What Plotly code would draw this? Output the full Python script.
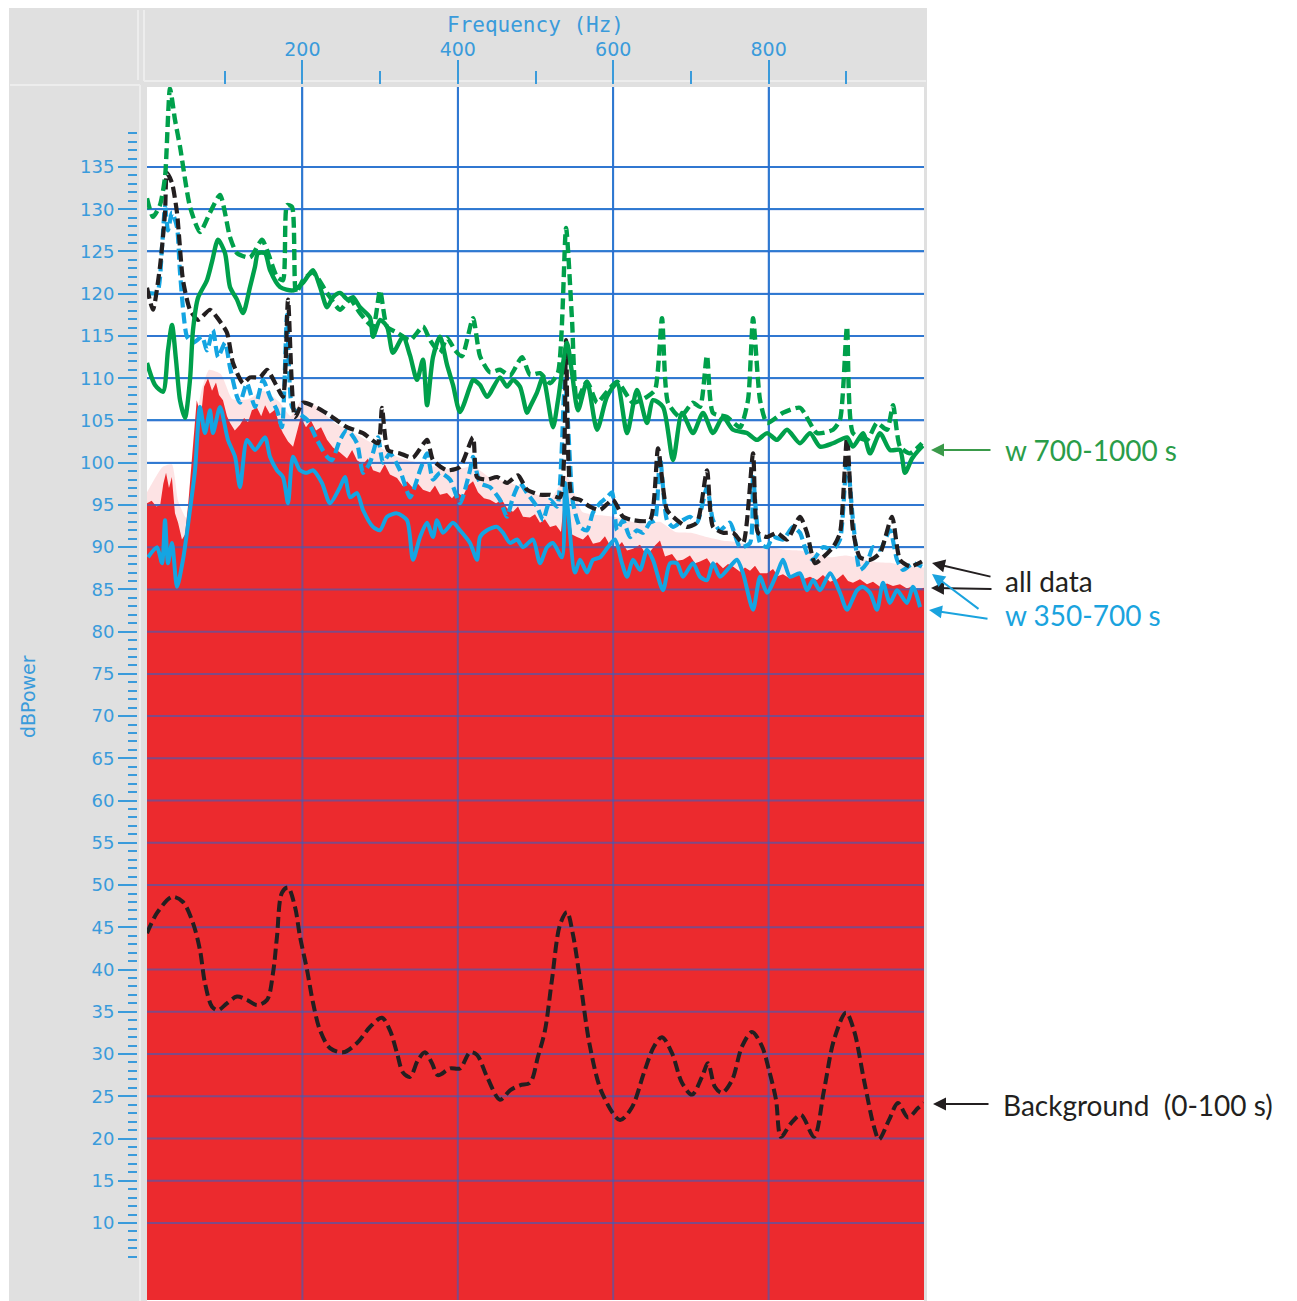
import plotly.graph_objects as go

W, H = 1297, 1301
def px(x):
    return x / W
def py(y):
    return 1 - y / H

# ---------------- data (Hz, dBPower) ----------------
gd_f = [0, 7.7, 16.7, 23.2, 29.6, 36, 42.5, 55.3, 68.2, 81.1, 94, 106.8, 115.8, 132.6, 148, 154.4, 167.3, 175, 180.2, 186.6,
        191.8, 200.8, 213.6, 231.7, 248.4, 261.3, 274.1, 290.9, 299.9, 308.9, 321.8, 338.5, 355.2, 364.3, 377.1, 386.1, 396.4,
        405.4, 419.6, 428.6, 441.4, 454.3, 467.2, 482.6, 492.9, 505.8, 518.7, 529, 539.3, 547, 553.4, 566.3, 579.2, 592,
        604.9, 625.5, 643.5, 653.8, 662.8, 670.5, 686, 702.7, 711.7, 720.7, 728.4, 746.5, 763.2, 773.5, 780, 789, 798, 818.5,
        840.4, 862.3, 882.9, 891.9, 900.9, 908.6, 926.6, 939.5, 952.4, 960.1, 969.1, 982, 997.4]
gd_db = [131.3, 129.1, 130.5, 133.8, 144.3, 140.6, 137.4, 130.3, 127.3, 129.6, 131.7, 126.7, 124.8, 124.3, 126.4, 125.2, 122, 121.6, 130.5, 130.3,
         120.1, 121.6, 122.5, 120.1, 118.1, 119.3, 117.7, 116.1, 120.4, 116.1, 115.4, 114.5, 116.1, 114.5, 113, 114.8, 113.3,
         112.6, 117.1, 112.6, 110.7, 111, 110.3, 112.5, 110.4, 110.6, 109.4, 110.7, 127.8, 116.9, 107.4, 109.6, 107.1, 108.4,
         109.6, 107.1, 107.8, 108.6, 117.1, 107.1, 105.4, 107.1, 106.6, 112.7, 105.9, 105.4, 104.2, 107.4, 117.1, 107.4, 104.7, 105.9,
         106.5, 103.5, 103.9, 105.1, 116.1, 103.5, 102.7, 104.7, 103.9, 106.8, 101.9, 101.1, 102.3]

gs_f = [0, 10.3, 20.6, 27, 32.2, 37.3, 42.5, 48.9, 55.3, 59.2, 65.6, 77.2, 83.7, 91.4, 100.4, 106.8, 115.8, 123.6, 132.6, 139,
        142.9, 151.9, 158.3, 171.2, 187.9, 200.8, 213.6, 222.7, 231.7, 239.4, 248.4, 258.7, 265.1, 274.1, 287, 290.9, 299.9,
        308.9, 316.6, 329.5, 338.5, 347.5, 355.2, 360.4, 368.1, 377.1, 386.1, 393.8, 402.8, 415.7, 419.6, 428.6, 437.6, 454.3,
        463.3, 471, 480, 489.1, 492.9, 501.9, 509.7, 522.5, 529, 540.5, 547, 554.7, 566.3, 579.2, 592, 604.9, 617.8, 630.6,
        643.5, 651.2, 664.1, 677, 688.5, 702.7, 715.6, 728.4, 741.3, 754.2, 772.2, 785.1, 798, 810.8, 823.7, 840.4, 853.3,
        866.2, 882.9, 900.9, 908.6, 921.5, 930.5, 943.4, 956.2, 969.1, 975.5, 984.6, 992.3, 998.7]
gs_db = [111.8, 109.2, 108.4, 113.3, 116.3, 112.2, 107.4, 105.3, 109.8, 115.7, 119.5, 121.6, 123.8, 126.4, 124.8, 120.8, 119.3, 117.7, 120.8, 123.2,
         124.8, 124.8, 122.8, 120.8, 120.4, 121.3, 122.8, 120.8, 118.4, 119.6, 120.1, 119.3, 119.6, 118.4, 117.2, 114.9, 116.9,
         116.1, 113, 114.9, 112.7, 109.8, 112.2, 106.8, 112.5, 114.9, 111.6, 109.2, 106, 109, 109.8, 109.2, 107.8, 110.1,
         109, 109.8, 109, 105.9, 106.6, 108.3, 110.1, 104.2, 107.4, 114.2, 110.6, 106.2, 109.6, 103.9, 107.8, 109.4, 103.5, 108.6,
         104.7, 107.4, 106.6, 100.3, 105.9, 103.5, 105.9, 103.5, 105.4, 103.9, 103.5, 102.7, 103.5, 102.7, 103.9, 102.3, 103.5,
         101.9, 102.3, 103, 101.9, 103.5, 101.1, 103.5, 101.5, 101.5, 98.8, 100.5, 101.4, 102]

ad_f = [0, 7.7, 16.7, 23.2, 25.7, 32.2, 38.6, 46.3, 55.3, 65.6, 81.1, 90.1, 102.9, 110.7, 123.6, 132.6, 145.5, 154.4, 167.3, 175,
        181.5, 190.5, 200.8, 218.8, 235.5, 257.4, 278, 297.3, 302.4, 310.2, 325.6, 342.3, 360.4, 368.1, 386.1, 402.8, 419.6,
        424.7, 437.6, 450.5, 463.3, 477.5, 489.1, 505.8, 518.7, 531.5, 539.3, 547, 557.3, 570.1, 583, 599.7, 612.6, 625.5,
        647.4, 657.7, 669.2, 682.1, 695, 707.9, 720.7, 728.4, 741.3, 754.2, 767.1, 780, 786.4, 798, 810.8, 823.7, 840.4, 849.4,
        859.7, 870, 882.9, 891.9, 900.9, 908.6, 917.6, 930.5, 943.4, 958.8, 969.1, 982, 997.4]
ad_db = [120.7, 118.1, 123.2, 129.6, 134.3, 133.1, 129.6, 121.6, 118.1, 116.9, 118.1, 117.2, 115.4, 111.8, 109.4, 110.1, 110.1, 111, 109, 107.8,
         119.3, 105.4, 107.1, 106.5, 105.6, 104.2, 103.5, 102.3, 106.5, 101.5, 101.1, 100.6, 102.7, 100.3, 99.1, 99.5, 103,
         98.3, 98, 98.3, 97.6, 98.5, 96.8, 96.2, 96.2, 95.9, 114.5, 95.9, 95.6, 94.8, 94.4, 95.6, 93.6, 93.2,
         93.2, 101.7, 94.4, 93.2, 92.4, 92.9, 99.1, 92.4, 91.7, 91.7, 90.5, 101.1, 91.7, 91.2, 91.7, 90.9, 93.6, 91.7,
         88.1, 88.8, 90, 91.7, 103, 92, 88.8, 88.5, 89.3, 93.6, 88.5, 87.7, 88.3]

bd_f = [0, 12.9, 19.3, 23.2, 27, 32.2, 38.6, 42.5, 51.5, 59.2, 70.8, 77.2, 84.9, 91.4, 100.4, 106.8, 115.8, 119.7, 128.7, 139,
        149.3, 158.3, 167.3, 173.7, 180.2, 186.6, 194.3, 205.9, 218.8, 231.7, 238.1, 248.4, 257.4, 270.3, 278, 287, 297.3,
        303.7, 312.7, 325.6, 338.5, 351.4, 360.4, 368.1, 377.1, 390, 402.8, 415.7, 419.6, 428.6, 441.4, 454.3, 463.3, 471,
        480, 489.1, 501.9, 509.7, 518.7, 527.7, 538, 548.3, 557.3, 566.3, 574, 583, 592, 598.5, 604.9, 612.6, 621.6, 630.6,
        638.4, 647.4, 653.8, 660.2, 669.2, 677, 689.8, 698.8, 707.9, 720.7, 728.4, 737.5, 750.3, 763.2, 776.1, 780, 789, 798,
        805.7, 818.5, 831.4, 840.4, 849.4, 857.1, 870, 882.9, 891.9, 900.9, 908.6, 917.6, 926.6, 934.4, 943.4, 956.2, 965.3,
        973, 985.8, 997.4]
bd_db = [120.1, 120.1, 125.5, 130.3, 127.5, 129.6, 127.9, 122.5, 114.9, 114.2, 114.9, 113.3, 115.7, 112.5, 114.2, 111.3, 107.8, 107.1, 109.4, 106.6,
         109.8, 107.8, 106.2, 104.2, 117.5, 106.6, 105.9, 105.1, 102.7, 100.7, 100.3, 102.7, 103.9, 102.3, 98.8, 100, 103,
         100, 101.1, 99.1, 95.9, 99.1, 101.1, 98, 98.8, 98, 95.2, 99.1, 100.7, 97.6, 97.1, 95.6, 93.6, 95.9,
         97.6, 96.4, 94.8, 93.2, 95.6, 94.8, 109.8, 95.2, 92.4, 92, 94.1, 95.2, 95.9, 96.5, 92, 93.2, 91.2, 92,
         91.7, 92.9, 93.2, 100.7, 93.2, 92.4, 93.2, 93.6, 92.9, 97.1, 93.2, 92, 92.9, 90, 90.5, 98.3, 90.5, 90,
         91.2, 90.9, 92.4, 91.7, 89.3, 88.5, 90, 89.7, 90.9, 100.7, 93.2, 87.3, 88.1, 90, 89.7, 92, 88.5,
         87.3, 88.1, 87.7]

bs_f = [1.3, 12.9, 19.3, 23.2, 27, 32.2, 38.6, 46.3, 55.3, 61.8, 68.2, 74.6, 81.1, 84.9, 94, 104.2, 113.3, 119.7, 128.7, 139,
        151.9, 158.3, 167.3, 175, 181.5, 187.9, 196.9, 205.9, 213.6, 225.2, 235.5, 248.4, 254.8, 261.3, 270.3, 278, 290.9,
        299.9, 308.9, 321.8, 334.6, 342.3, 351.4, 360.4, 368.1, 373.2, 380.9, 393.8, 402.8, 415.7, 424.7, 428.6, 437.6, 450.5,
        458.2, 467.2, 476.2, 483.9, 496.8, 505.8, 514.8, 522.5, 534.1, 538, 541.8, 550.8, 557.3, 566.3, 574, 583, 593.3, 602.3,
        611.3, 617.8, 625.5, 634.5, 643.5, 651.2, 664.1, 673.1, 682.1, 689.8, 702.7, 711.7, 720.7, 728.4, 737.5, 750.3, 759.3,
        767.1, 780, 789, 798, 810.8, 818.5, 827.5, 840.4, 849.4, 857.1, 866.2, 879.1, 891.9, 900.9, 913.8, 921.5, 930.5, 939.5,
        947.2, 956.2, 965.3, 978.1, 985.8, 994.9]
bs_db = [88.8, 90, 88.1, 93.2, 88.1, 90.5, 85.3, 88.5, 94.4, 99.1, 106.6, 103.5, 106.2, 103.5, 106.6, 102.7, 100.7, 97.1, 102.7, 101.5,
         103, 100.7, 99.1, 98.3, 95.2, 100.7, 99.1, 98.8, 99.1, 97.6, 95.2, 97.1, 98.3, 95.9, 96.4, 94.4, 92.4,
         92, 93.6, 94, 93.2, 88.5, 91.2, 92.9, 91.2, 93.2, 91.7, 92.9, 92, 90.5, 88.5, 91.2, 92, 92.4,
         91.7, 90.5, 90.9, 90, 90.9, 88.1, 90, 90.5, 88.8, 97.6, 94.4, 87, 88.5, 87, 88.5, 88.8, 90, 90.9,
         88.1, 86.5, 88.5, 87.3, 89.7, 88.5, 84.9, 88.1, 88.1, 86.5, 88.1, 86.5, 86.1, 88.1, 86.5, 87.7, 88.5,
         86.9, 82.6, 86.5, 84.6, 86.9, 88.5, 86.5, 86.9, 84.9, 86.1, 84.9, 86.9, 84.6, 82.6, 84.9, 85.3, 84.6, 82.6,
         85.8, 83.4, 84.9, 83.4, 85.3, 82.9]

bg_f = [0, 12.9, 32.2, 46.3, 59.2, 68.2, 74.6, 83.7, 91.4, 102.9, 115.8, 128.7, 141.6, 154.4, 162.2, 167.3, 173.7, 181.5, 190.5, 196.9,
        205.9, 213.6, 222.7, 235.5, 252.3, 270.3, 287, 302.4, 312.7, 321.8, 329.5, 338.5, 348.8, 357.8, 366.8, 374.5, 390,
        402.8, 415.7, 424.7, 437.6, 454.3, 467.2, 480, 492.9, 503.2, 512.2, 521.2, 531.5, 540.5, 548.3, 557.3, 570.1, 585.6,
        608.8, 624.2, 639.6, 652.5, 662.8, 675.7, 688.5, 701.4, 714.3, 722, 731, 740, 752.9, 765.8, 778.6, 791.5, 800.5, 809.5,
        815.9, 828.8, 841.7, 858.4, 871.3, 884.2, 899.6, 909.9, 922.8, 935.6, 942.1, 955, 966.5, 979.4, 992.3, 1000]
bg_db = [44.3, 46.7, 48.6, 48, 45.5, 42.3, 38.4, 35.6, 35.2, 36, 36.8, 36.4, 35.8, 36.4, 39.6, 43.9, 49.1, 49.7, 47.4, 43.9,
         40, 36.1, 32.8, 30.7, 30.2, 31.3, 33.2, 34.3, 32.8, 30.1, 27.8, 27.3, 29.3, 30.2, 28.9, 27.5, 28.3,
         28.3, 30.2, 29.9, 27.3, 24.6, 25.7, 26.3, 26.6, 29.7, 32.8, 38.8, 45.3, 46.8, 44.1, 38.8, 30.9, 25.4,
         22.2, 23.7, 27.8, 30.9, 32, 30.1, 26.6, 25.2, 27.3, 28.9, 26.1, 25.4, 26.9, 30.9, 32.6, 30.9, 28.1, 24.6,
         20.2, 21.8, 22.8, 20.2, 25.7, 31.7, 34.9, 32.8, 26.9, 21.4, 19.9, 22.2, 24.2, 22.5, 23.6, 24.2]

rd_f = [0, 6, 12, 17, 21, 24.5, 28.3, 32, 36, 40, 45, 49, 53, 58, 64, 69.5, 73.4, 78.5, 83.7, 88.8,
        92.7, 97.8, 103, 107, 113, 119.7, 125, 130, 135, 141.6, 147, 152, 158, 165, 170, 175, 181.5, 188, 193, 198,
        204.6, 211, 217.5, 224, 231.7, 239.4, 248.4, 257.4, 264, 270.3, 278, 284.4, 290.9, 299.9, 306, 312.7, 321.8, 329.5,
        334.6, 342.3, 348.8, 355.2, 364.3, 370.6, 377.1, 386.1, 392.5, 399, 406.6, 413, 419.6, 426, 433.7, 441.4, 449.2,
        456.9, 463.3, 471, 477.5, 483.9, 492.9, 499.4, 505.8, 512.2, 518.7, 526.4, 532.8, 538, 541.8, 547, 553.4, 561.1,
        567.6, 574, 583, 589.4, 595.9, 604.9, 611.3, 617.8, 625.5, 634.5, 641, 647.4, 653.8, 660.2, 666.7, 675.7, 682.1,
        689.8, 698.8, 705.3, 711.7, 720.7, 727.2, 733.6, 741.3, 747.8, 754.2, 763.2, 769.6, 776.1, 782.5, 789, 798, 805.7,
        812.1, 818.5, 827.5, 836.6, 844.3, 853.3, 862.3, 870, 879.1, 888, 895.8, 902.2, 908.6, 917.6, 926.6, 934.4, 943.4,
        952.4, 960.1, 969.1, 978.1, 985.8, 992.3, 1000]
rd_db = [95.2, 95.5, 94.8, 95, 97.5, 98.8, 97, 98.3, 94, 92.9, 90.9, 91.5, 95, 100.5, 107.4, 105.5, 109, 110, 108.5, 109.5,
         108, 107.4, 105.5, 104.7, 103.8, 104.5, 105.3, 104.8, 106.2, 106.5, 105.5, 106.8, 105.8, 106.3, 104.5, 103.5, 102.5, 101.9, 103.5, 105.4,
         104.2, 105, 103.8, 104.2, 102.7, 101.8, 101.2, 100.5, 101.5, 100.3, 99.8, 100.5, 99.1, 98.8, 99.8, 98.6, 98.2, 97.2,
         97.8, 97, 97.5, 96.8, 96.5, 97.3, 96.2, 96.4, 95.8, 96.5, 96, 97.3, 97.8, 96.5, 95.8, 95.6, 95.2,
         95.6, 94.6, 94.2, 94.8, 93.6, 93.5, 93.9, 92.9, 93.3, 92.4, 92.6, 91.8, 97, 95, 91.5, 91.2, 90.9,
         91.5, 90.4, 90.6, 91.3, 90.2, 90, 90.6, 89.6, 89.8, 90.3, 89.3, 89.5, 90.2, 90.8, 88.9, 89.2, 88.4,
         88.5, 89, 88.1, 88.3, 88.7, 87.8, 88.2, 87.5, 88, 87.7, 87.1, 87.6, 87.2, 87.8, 86.9, 86.9, 87.4,
         86.6, 86.8, 86.3, 87, 86.2, 86.5, 86.1, 86.7, 85.9, 86.2, 86.8, 86, 85.8, 86.2, 85.6, 85.9, 85.3,
         85.7, 85.4, 85.6, 85.1, 85.4, 84.9, 85.2]

# faint upper fringe of the all-data spectrum
rf_f = [0, 20, 32, 40, 50, 60, 70, 80, 95, 110, 130, 150, 170, 185, 200, 220, 240, 260, 280, 300, 320, 340, 360, 380,
        400, 420, 440, 460, 480, 500, 520, 540, 560, 580, 600, 620, 640, 660, 680, 700, 720, 740, 760, 780, 800, 820,
        840, 860, 880, 900, 920, 940, 960, 980, 1000]
rf_db = [96.5, 99.5, 99.8, 95.5, 93.5, 103, 108.5, 111, 110.5, 107.5, 107.5, 108.5, 107.2, 105.5, 107.5, 106.5, 104.8,
         103.8, 102.8, 101.8, 100.8, 100.2, 99.8, 99.3, 99.2, 99.6, 98.3, 97.8, 97.2, 96.3, 95.8, 98.5, 94.2, 93.8,
         93.6, 93.1, 92.7, 93, 91.8, 91.7, 91.2, 90.8, 90.6, 90.2, 90.1, 89.7, 89.6, 89.2, 88.8, 89, 88.6, 88.2,
         88.1, 87.7, 87.6]

x_major = [200, 400, 600, 800]
x_minor = [100, 300, 500, 700, 900]
y_major = list(range(10, 140, 5))
y_minor = list(range(6, 140))
X_RANGE = [0, 1000]
Y_RANGE = [0.885, 144.47]

# ---------------- styles ----------------
GREEN = '#00a04b'
BLUE = '#14a5e2'
BLACK = '#231f20'
RED = '#ec2a2e'
AXBLUE = '#3a9bdb'
GRID = '#3a8fd6'
PANEL = '#e0e0e0'
DASH = '11px,5px'

fig = go.Figure()

fig.add_trace(go.Scatter(x=rf_f, y=rf_db, mode='lines', fill='tozeroy', fillcolor='rgba(236,42,46,0.13)',
                         line=dict(width=0, color='rgba(0,0,0,0)', shape='spline', smoothing=0.5), hoverinfo='skip'))
fig.add_trace(go.Scatter(x=rd_f, y=rd_db, mode='lines', fill='tozeroy', fillcolor=RED,
                         line=dict(width=0, color=RED), hoverinfo='skip'))

# grid overlay drawn above the filled area (from the tick arrays)
gx, gy = [], []
for v in x_major:
    gx += [v, v, None]; gy += [Y_RANGE[0], Y_RANGE[1], None]
for v in y_major:
    gx += [X_RANGE[0], X_RANGE[1], None]; gy += [v, v, None]
fig.add_trace(go.Scatter(x=gx, y=gy, mode='lines', line=dict(color='rgba(40,100,205,0.55)', width=2),
                         hoverinfo='skip'))

def line(xs, ys, color, dash=None, width=4.2, smooth=0.6):
    fig.add_trace(go.Scatter(x=xs, y=ys, mode='lines',
                             line=dict(color=color, width=width, dash=dash, shape='spline', smoothing=smooth),
                             hoverinfo='skip'))

line(bg_f, bg_db, BLACK, DASH, 4, 0.9)
line(bs_f, bs_db, BLUE, None, 4, 0.7)
line(bd_f, bd_db, BLUE, DASH, 4.2, 0.6)
line(ad_f, ad_db, BLACK, DASH, 4.2, 0.6)
line(gs_f, gs_db, GREEN, None, 4.4, 0.7)
line(gd_f, gd_db, GREEN, DASH, 4.4, 0.6)

# ---------------- layout ----------------
shapes = [
    dict(type='rect', xref='paper', yref='paper', x0=px(9), x1=px(147), y0=py(1301), y1=py(8),
         fillcolor=PANEL, line=dict(width=0), layer='below'),
    dict(type='rect', xref='paper', yref='paper', x0=px(147), x1=px(927), y0=py(87), y1=py(8),
         fillcolor=PANEL, line=dict(width=0), layer='below'),
    dict(type='rect', xref='paper', yref='paper', x0=px(924), x1=px(927), y0=py(1301), y1=py(87),
         fillcolor=PANEL, line=dict(width=0), layer='below'),
    # light panel separators
    dict(type='line', xref='paper', yref='paper', x0=px(140), x1=px(140), y0=py(1301), y1=py(85),
         line=dict(color='#ededed', width=2), layer='below'),
    dict(type='line', xref='paper', yref='paper', x0=px(10), x1=px(140), y0=py(85), y1=py(85),
         line=dict(color='#ededed', width=2), layer='below'),
    dict(type='line', xref='paper', yref='paper', x0=px(144), x1=px(144), y0=py(81), y1=py(10),
         line=dict(color='#ededed', width=2), layer='below'),
    dict(type='line', xref='paper', yref='paper', x0=px(144), x1=px(926), y0=py(81), y1=py(81),
         line=dict(color='#ededed', width=2), layer='below'),
    dict(type='line', xref='paper', yref='paper', x0=px(138), x1=px(138), y0=py(80), y1=py(10),
         line=dict(color='#ededed', width=2), layer='below'),
]

annotations = [
    dict(text='Frequency (Hz)', x=px(535), y=py(25), xref='paper', yref='paper', showarrow=False,
         font=dict(family='DejaVu Sans Mono', size=21, color=AXBLUE), xanchor='center', yanchor='middle'),
    dict(text='dBPower', x=px(28), y=py(697), xref='paper', yref='paper', showarrow=False, textangle=-90,
         font=dict(family='DejaVu Sans', size=19, color=AXBLUE), xanchor='center', yanchor='middle'),
    dict(text='w 700-1000 s', x=px(1003), y=py(450), xref='paper', yref='paper', showarrow=False,
         font=dict(family='Lato', size=28, color='#2a9d49'), xanchor='left', yanchor='middle'),
    dict(text='all data', x=px(1003), y=py(581), xref='paper', yref='paper', showarrow=False,
         font=dict(family='Lato', size=28, color=BLACK), xanchor='left', yanchor='middle'),
    dict(text='w 350-700 s', x=px(1003), y=py(615), xref='paper', yref='paper', showarrow=False,
         font=dict(family='Lato', size=28, color='#1aa3de'), xanchor='left', yanchor='middle'),
    dict(text='Background  (0-100 s)', x=px(1001), y=py(1105), xref='paper', yref='paper', showarrow=False,
         font=dict(family='Lato', size=28, color=BLACK), xanchor='left', yanchor='middle'),
]

arrows = [
    ((931, 450), (992, 450), '#3a9a4a'),
    ((932, 563), (992, 577), BLACK),
    ((931, 588), (993, 589), BLACK),
    ((932, 574), (980, 610), '#1aa3de'),
    ((929, 610), (989, 619), '#1aa3de'),
    ((933, 1104), (990, 1104), BLACK),
]
for (hx, hy), (tx, ty), c in arrows:
    annotations.append(dict(text='', x=px(hx), y=py(hy), xref='paper', yref='paper', showarrow=True,
                            ax=tx - hx, ay=ty - hy, arrowhead=2, arrowsize=1.3, arrowwidth=2,
                            arrowcolor=c, standoff=0, startstandoff=0))

fig.update_layout(
    width=W, height=H,
    margin=dict(l=0, r=0, t=0, b=0),
    paper_bgcolor='white', plot_bgcolor='white',
    showlegend=False,
    shapes=shapes, annotations=annotations,
    xaxis=dict(domain=[px(147), px(924)], range=X_RANGE, anchor='free', position=py(84), side='top',
               tickmode='array', tickvals=x_major, ticks='outside', ticklen=24, tickwidth=2, tickcolor=AXBLUE,
               tickfont=dict(family='DejaVu Sans', size=19, color=AXBLUE), ticklabelstandoff=-4,
               showgrid=True, gridcolor=GRID, gridwidth=2, zeroline=False, showline=False,
               minor=dict(tickmode='array', tickvals=x_minor, ticks='outside', ticklen=13, tickwidth=2,
                          tickcolor=AXBLUE, showgrid=False)),
    yaxis=dict(domain=[py(1300), py(87)], range=Y_RANGE, anchor='free', position=px(137), side='left',
               tickmode='array', tickvals=y_major, ticks='outside', ticklen=19, tickwidth=2, tickcolor=AXBLUE,
               tickfont=dict(family='DejaVu Sans', size=18, color=AXBLUE),
               showgrid=True, gridcolor=GRID, gridwidth=2, zeroline=False, showline=False,
               minor=dict(tickmode='array', tickvals=y_minor, ticks='outside', ticklen=9, tickwidth=2,
                          tickcolor=AXBLUE, showgrid=False)),
)

fig.write_html('out.html')
